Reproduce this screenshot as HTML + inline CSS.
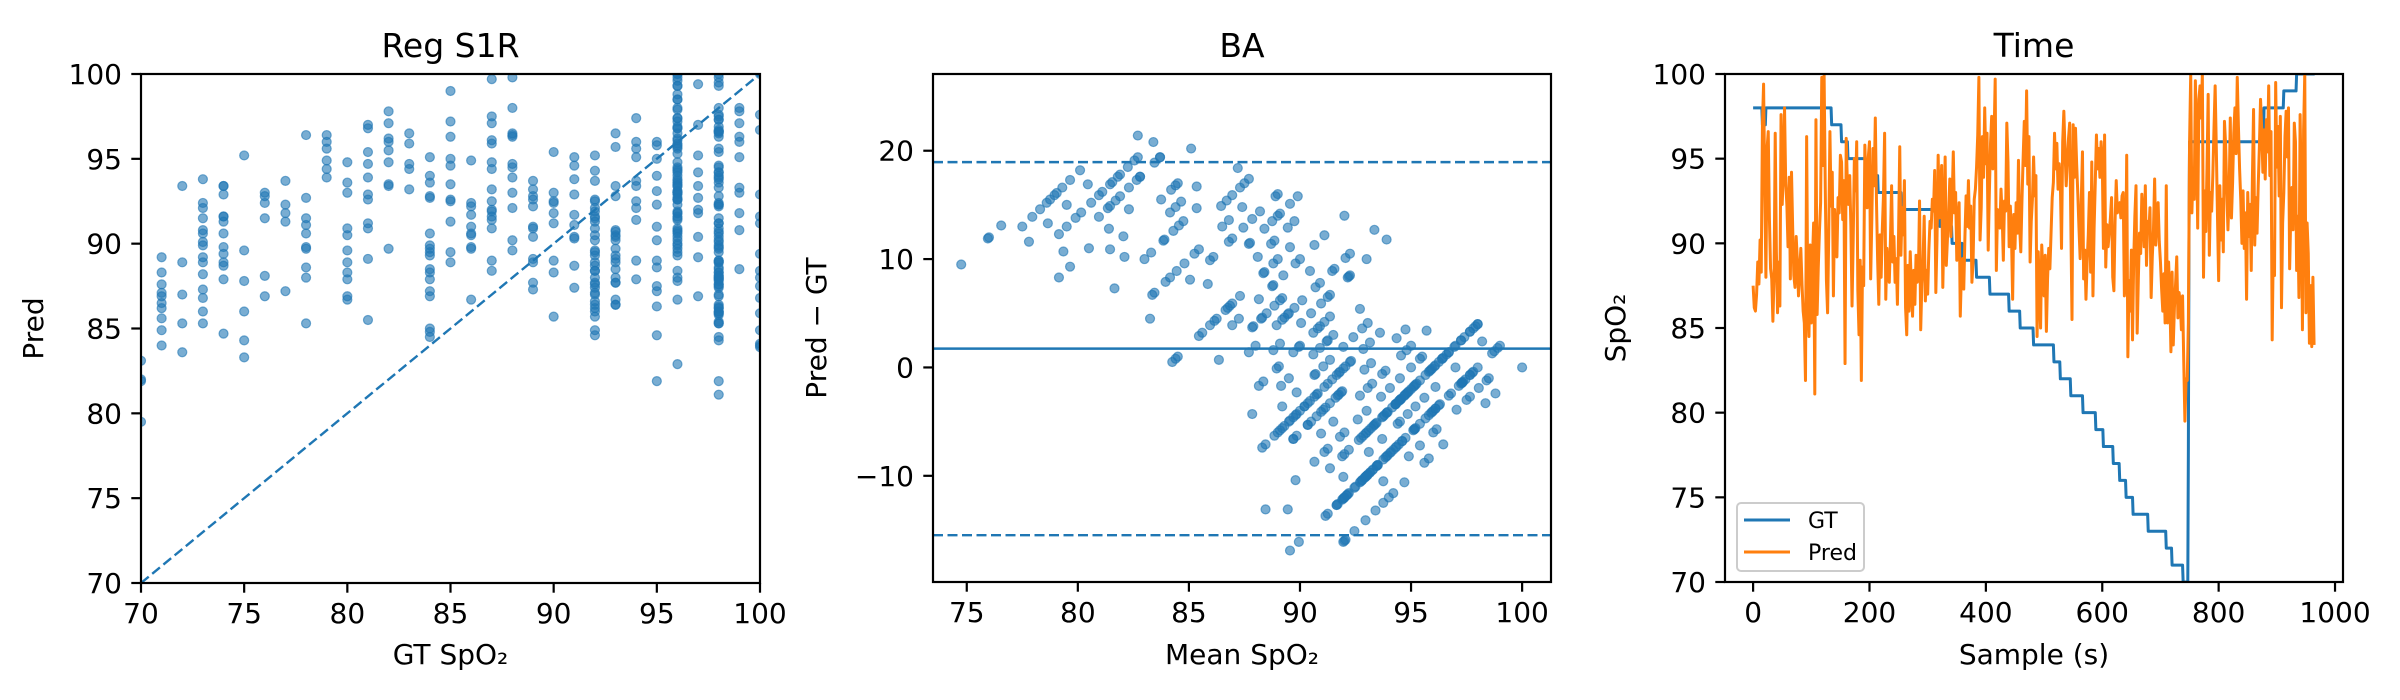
<!DOCTYPE html>
<html><head><meta charset="utf-8">
<style>
html,body{margin:0;padding:0;background:#fff;}
svg{display:block;font-family:"DejaVu Sans","Liberation Sans",sans-serif;}
</style></head>
<body>
<svg id="fig" width="2400" height="700" viewBox="0 0 2400 700" xmlns="http://www.w3.org/2000/svg">
<defs>
<clipPath id="c1"><rect x="141" y="74" width="619" height="509"/></clipPath>
<clipPath id="c2"><rect x="933" y="74" width="618" height="508"/></clipPath>
<clipPath id="c3"><rect x="1725" y="74" width="618" height="508"/></clipPath>
</defs>
</svg>
<script>
// ---- data ----
const gtLevels = [98,97,98,97,96,95,94,93,92,91,90,89,88,87,86,85,84,83,82,81,80,79,78,77,76,75,74,73,72,71,70,78,90,96,98,99,100];
const gtRuns   = [16,6,113,17,11,31,21,40,66,21,18,24,23,33,19,23,35,11,18,21,22,13,17,11,11,12,26,31,10,19,9,1,1,128,34,22,32];
const predValues = [
87.5,90.9,86.2,88.4,86.0,89.6,87.0,90.6,88.9,91.8,87.6,93.6,90.2,91.5,88.3,92.9,97.0,89.1,99.4,95.8,
93.4,84.8,88.0,84.7,95.6,87.3,96.6,86.4,91.5,82.2,88.5,84.1,87.9,90.4,85.4,93.8,88.0,87.0,96.5,92.1,
89.5,95.0,85.9,91.9,88.9,93.8,86.3,91.7,97.6,89.2,92.3,86.0,94.2,88.3,98.0,90.6,93.6,88.6,92.3,94.2,
89.8,88.7,93.9,92.4,87.9,90.3,94.2,86.5,90.9,82.7,88.1,93.7,87.4,95.0,90.4,84.1,89.0,92.7,86.9,91.9,
88.3,84.4,89.7,95.7,87.6,91.8,86.0,93.9,85.3,90.3,81.9,88.7,96.3,92.0,86.4,90.5,84.5,92.5,89.9,93.7,
85.3,97.9,89.0,84.0,91.2,88.6,81.1,92.9,97.3,89.2,85.8,93.9,88.6,96.2,90.7,82.1,92.4,87.9,99.8,89.3,
94.6,86.0,100.0,88.5,93.3,91.2,87.8,96.6,85.9,89.2,90.6,84.0,96.6,81.0,92.2,88.8,94.2,89.3,86.9,90.6,
92.0,84.6,90.4,95.9,89.2,87.0,92.7,86.6,91.8,88.3,95.2,85.6,94.8,89.6,91.4,87.2,93.7,90.8,82.9,88.3,
96.2,90.0,93.5,87.5,92.3,89.0,94.0,88.4,91.0,97.5,86.3,92.6,90.2,84.5,95.0,88.3,93.1,89.8,96.0,91.5,
87.2,90.9,84.6,93.3,89.0,92.3,81.9,96.8,88.6,93.8,87.5,91.0,95.8,89.5,93.7,86.9,92.1,88.5,95.1,90.0,
96.0,91.6,87.9,93.9,91.4,89.1,95.6,86.9,93.4,90.3,97.4,88.1,92.5,94.3,89.0,91.9,86.4,93.9,90.5,92.6,
88.0,94.8,90.8,87.2,92.8,89.4,96.5,91.1,86.7,93.1,89.7,95.3,88.5,92.0,87.7,94.6,90.2,86.9,93.4,91.3,
88.9,95.9,90.4,92.8,87.7,94.3,89.1,91.7,86.4,93.0,90.7,88.5,95.7,91.9,89.3,87.0,92.1,85.1,90.5,88.0,
93.7,89.0,86.2,91.8,84.6,92.2,88.7,90.9,86.0,94.5,89.5,91.3,87.4,92.7,85.7,90.0,88.4,93.3,86.4,91.0,
89.3,95.0,87.7,91.3,88.0,86.7,92.5,89.8,84.9,90.3,87.6,93.0,88.9,85.4,91.6,89.0,86.6,92.2,88.4,90.7,
87.0,93.7,89.6,86.2,91.3,88.6,90.9,85.9,92.6,89.0,91.9,88.0,94.3,89.7,87.1,92.4,90.2,88.6,95.2,90.4,
91.5,87.2,92.9,89.7,94.6,90.8,87.4,93.5,91.1,89.2,95.1,90.0,88.7,92.6,90.3,86.8,91.7,89.5,93.8,88.1,
90.4,86.6,92.5,89.9,95.4,88.7,91.8,87.5,93.0,90.8,89.0,94.6,91.2,87.9,92.4,90.0,85.7,91.5,88.3,93.2,
89.1,91.7,87.3,94.0,90.4,88.6,92.8,90.5,91.0,89.4,93.7,88.0,90.9,88.8,92.2,89.6,87.7,91.4,88.9,94.3,
92.6,97.0,93.2,89.3,94.5,90.9,96.4,91.8,99.8,93.6,90.2,95.0,92.1,89.4,96.3,91.5,93.9,89.9,98.0,92.4,
94.7,90.1,96.5,92.9,89.6,95.4,93.0,91.2,95.9,93.6,97.5,91.8,94.4,89.5,96.1,92.6,99.7,93.8,88.4,95.2,
92.0,96.6,91.4,94.9,90.9,98.6,93.2,95.7,91.6,94.3,89.0,96.2,92.5,95.0,91.9,93.7,97.1,90.6,94.8,92.7,
89.8,94.6,92.2,97.0,90.5,93.8,86.7,95.3,91.7,94.1,89.7,96.0,92.4,95.4,90.6,93.2,94.9,88.0,91.0,94.9,
89.5,96.4,92.5,85.3,95.0,91.0,97.2,89.1,94.6,92.0,99.0,90.9,93.5,85.6,96.3,92.4,88.9,95.3,91.3,94.7,
92.6,90.0,95.1,88.4,92.8,86.6,94.0,90.3,84.5,93.1,89.5,95.2,87.2,91.6,85.0,92.9,89.9,96.6,88.3,91.9,
86.9,94.6,89.3,92.3,84.8,90.9,87.9,93.8,89.7,91.4,88.5,95.0,90.6,86.2,92.7,89.0,93.6,91.0,96.5,90.1,
94.4,92.3,95.9,91.4,93.2,90.4,94.7,87.7,93.5,99.5,89.7,94.1,96.0,88.6,97.8,91.6,95.5,90.5,93.4,99.2,
94.8,89.7,96.2,92.0,97.1,93.8,91.2,95.0,85.5,92.4,97.0,89.5,93.9,88.0,96.8,91.6,94.7,86.7,92.9,95.3,
90.9,93.2,89.1,97.0,92.6,88.5,95.4,91.7,87.9,93.2,89.6,95.3,86.7,92.1,88.9,94.7,90.5,87.3,93.0,91.2,
88.3,92.6,94.8,89.9,86.9,93.6,90.9,88.0,93.6,90.9,96.4,91.3,94.4,92.6,95.6,90.7,93.9,92.9,96.0,91.0,
94.9,93.2,89.7,92.4,96.4,90.3,88.6,93.5,91.1,95.5,89.8,92.3,90.6,94.9,91.5,89.3,92.7,91.9,88.0,91.5,
87.2,95.6,91.3,89.0,93.7,87.9,91.8,88.7,92.3,86.0,92.4,88.9,91.5,87.1,92.8,89.2,93.0,90.6,86.9,91.9,
88.1,87.3,95.2,89.5,83.3,93.9,87.8,90.2,86.0,92.8,89.6,96.2,84.3,92.7,88.9,81.7,91.6,86.5,93.4,89.0,
84.7,92.6,87.9,99.0,90.6,85.6,89.4,83.4,92.9,88.4,91.6,84.9,89.8,86.0,93.4,82.0,88.7,85.5,91.3,87.6,
90.6,84.5,92.1,88.4,86.8,94.0,89.2,82.5,90.8,87.1,93.8,85.9,89.9,88.5,91.5,86.5,92.4,87.7,90.1,84.6,
88.9,91.8,87.3,93.5,86.0,90.3,88.2,92.0,85.3,89.1,93.4,89.0,85.3,95.7,88.9,91.2,87.0,89.3,83.6,90.2,
88.3,92.5,84.0,89.5,86.2,91.1,87.6,85.0,89.2,91.6,85.6,88.7,87.1,90.3,86.5,89.0,84.9,92.2,86.9,88.1,
83.1,86.4,79.5,84.9,82.0,88.4,81.9,87.0,85.3,90.0,
95.9,93.0,100.0,98.2,91.8,96.7,94.3,100.0,92.6,97.9,99.6,93.4,96.1,100.0,90.9,95.2,98.5,92.2,99.3,94.6,
97.4,91.3,100.0,95.7,88.0,96.9,93.1,99.0,90.7,97.6,94.5,92.0,98.8,95.4,89.3,96.4,93.0,99.6,91.9,97.1,
94.0,88.7,96.8,92.3,99.3,90.5,95.6,97.8,91.6,94.9,87.8,96.0,93.4,98.2,90.2,95.1,92.6,99.0,89.5,94.5,
97.2,91.2,95.8,82.2,93.0,98.5,90.8,96.3,92.9,89.1,97.4,94.2,91.5,99.4,93.6,88.6,96.5,92.0,98.0,90.3,
95.3,93.7,99.8,91.0,96.9,87.3,94.4,97.6,92.6,100.0,90.0,95.9,93.1,98.4,89.7,96.2,91.8,94.8,86.7,97.3,
93.0,100.0,90.4,95.5,92.3,98.9,88.4,96.6,93.8,91.1,97.9,94.0,89.9,99.3,92.7,95.9,90.6,97.0,93.4,87.9,
95.7,91.7,98.5,93.0,96.8,89.3,94.2,91.0,96.7,82.8,93.8,88.0,97.3,90.5,95.4,86.4,99.3,91.6,94.0,88.9,
96.6,92.4,84.3,98.8,90.1,95.2,88.1,93.7,99.5,87.3,94.5,91.0,96.9,85.0,92.8,89.7,97.5,93.3,86.2,95.9,
91.2,98.2,93.0,94.8,96.3,89.3,97.8,92.8,95.1,90.0,98.0,94.2,88.5,96.9,91.8,95.5,93.3,99.2,90.8,94.9,
97.1,92.3,96.0,98.6,88.4,95.9,91.6,99.0,86.8,94.3,97.6,85.6,92.9,99.6,84.9,90.7,96.7,88.2,100.0,93.2,
85.9,97.5,91.2,83.8,89.4,96.0,84.1,91.1,87.5,95.0,83.9,90.7,88.0,96.0,84.0,96.0
];
const sampleStep = 2;
const p1Ticks = [70,75,80,85,90,95,100];
const p2XTicks = [75,80,85,90,95,100];
const p2YTicks = [-10,0,10,20];
const p3XTicks = [0,200,400,600,800,1000];
const p3YTicks = [70,75,80,85,90,95,100];

// ---- helpers ----
const NS = 'http://www.w3.org/2000/svg';
const svg = document.getElementById('fig');
function mk(tag, attrs, parent){
  const e = document.createElementNS(NS, tag);
  for (const k in attrs) e.setAttribute(k, attrs[k]);
  (parent || svg).appendChild(e);
  return e;
}
function lin(d0,d1,r0,r1){ return v => r0 + (v-d0)/(d1-d0)*(r1-r0); }
const BLUE='#1f77b4', ORANGE='#ff7f0e';

// expand GT (1 value per second)
const gt = [];
for (let i=0;i<gtLevels.length;i++) for (let j=0;j<gtRuns[i];j++) gt.push(gtLevels[i]);
const NT = Math.min(gt.length, predValues.length);
// samples taken every sampleStep seconds
const tArr = [], pred = [], gtv = [];
for (let t=0; t<NT; t+=sampleStep){ tArr.push(t); pred.push(predValues[t]); gtv.push(gt[t]); }
const N = pred.length;

function axes(name, L, T, R, B, xs, ys, xticks, yticks, xfmt, yfmt, title, xlabel, ylabel, ylabX){
  const g = mk('g', {});
  
  
  for (const t of xticks){
    const x = xs(t);
    const tk = mk('line', {x1:x, x2:x, y1:B, y2:B+9.7, stroke:'#000', 'stroke-width':2.2}, g);
    
    
    const tx = mk('text', {x:x, y:B+40, 'font-size':28, 'text-anchor':'middle', fill:'#000'}, g);
    
    
    tx.textContent = xfmt(t);
  }
  for (const t of yticks){
    const y = ys(t);
    const tk = mk('line', {x1:L-9.7, x2:L, y1:y, y2:y, stroke:'#000', 'stroke-width':2.2}, g);
    
    
    const tx = mk('text', {x:L-19, y:y+10, 'font-size':28, 'text-anchor':'end', fill:'#000'}, g);
    
    
    tx.textContent = yfmt(t);
  }
  const fr = mk('rect', {x:L, y:T, width:R-L, height:B-T, fill:'none', stroke:'#000', 'stroke-width':2.2}, g);
  
  
  const ti = mk('text', {x:(L+R)/2, y:57, 'font-size':33, 'text-anchor':'middle', fill:'#000'}, g);
  
  
  ti.textContent = title;
  const xl = mk('text', {x:(L+R)/2, y:664, 'font-size':28, 'text-anchor':'middle', fill:'#000'}, g);
  
  
  xl.textContent = xlabel;
  const cy = (T+B)/2;
  const yl = mk('text', {x:ylabX, y:cy, 'font-size':28, 'text-anchor':'middle', fill:'#000', transform:'rotate(-90 '+ylabX+' '+cy+')'}, g);
  
  
  yl.textContent = ylabel;
}
const fmtInt = v => String(v);
const fmtMinus = v => v < 0 ? '\u2212' + Math.abs(v) : String(v);

// ---- Panel 1: regression scatter ----
const x1 = lin(70,100,141,760), y1 = lin(70,100,583,74);
const g1 = mk('g', {'clip-path':'url(#c1)'});


for (let i=0;i<N;i++){
  const c = mk('circle', {cx:x1(gtv[i]), cy:y1(pred[i]), r:4.5, fill:BLUE, 'fill-opacity':0.6, stroke:BLUE, 'stroke-opacity':0.6, 'stroke-width':1.2}, g1);
  
  
}
const idl = mk('line', {x1:x1(70), y1:y1(70), x2:x1(100), y2:y1(100), stroke:BLUE, 'stroke-width':2.4, 'stroke-dasharray':'10,4.5', 'clip-path':'url(#c1)'});


axes('reg', 141,74,760,583, x1,y1, p1Ticks,p1Ticks, fmtInt,fmtInt, 'Reg S1R', 'GT SpO\u2082', 'Pred', 43);

// ---- Panel 2: Bland-Altman ----
const x2 = lin(73.48,101.3,933,1551), y2 = lin(-19.8,27.08,582,74);
const g2 = mk('g', {'clip-path':'url(#c2)'});


const diffs = [];
for (let i=0;i<N;i++){
  const m = (gtv[i]+pred[i])/2, d = pred[i]-gtv[i];
  diffs.push(d);
  const c = mk('circle', {cx:x2(m), cy:y2(d), r:4.5, fill:BLUE, 'fill-opacity':0.6, stroke:BLUE, 'stroke-opacity':0.6, 'stroke-width':1.2}, g2);
  
  
}
const mean = diffs.reduce((a,b)=>a+b,0)/diffs.length;
const sd = Math.sqrt(diffs.reduce((a,b)=>a+(b-mean)*(b-mean),0)/diffs.length);
const ml = mk('line', {x1:933, x2:1551, y1:y2(mean), y2:y2(mean), stroke:BLUE, 'stroke-width':2.4});


for (const v of [mean+1.96*sd, mean-1.96*sd]){
  const l = mk('line', {x1:933, x2:1551, y1:y2(v), y2:y2(v), stroke:BLUE, 'stroke-width':2.4, 'stroke-dasharray':'10,4.5'});
  
  
}
axes('ba', 933,74,1551,582, x2,y2, p2XTicks,p2YTicks, fmtInt,fmtMinus, 'BA', 'Mean SpO\u2082', 'Pred \u2212 GT', 826);

// ---- Panel 3: time series ----
const x3 = lin(-48.3,1013.7,1725,2343), y3 = lin(70,100,582,74);
const g3 = mk('g', {'clip-path':'url(#c3)'});


let dg='', dp='';
for (let t=0;t<NT;t++){
  dg += (t?'L':'M') + x3(t).toFixed(2) + ',' + y3(gt[t]).toFixed(2);
}
for (let i=0;i<N;i++){
  dp += (i?'L':'M') + x3(tArr[i]).toFixed(2) + ',' + y3(pred[i]).toFixed(2);
}
const pg = mk('path', {d:dg, fill:'none', stroke:BLUE, 'stroke-width':3, 'stroke-linejoin':'round'}, g3);


const pp = mk('path', {d:dp, fill:'none', stroke:ORANGE, 'stroke-width':3, 'stroke-linejoin':'round'}, g3);


axes('time', 1725,74,2343,582, x3,y3, p3XTicks,p3YTicks, fmtInt,fmtInt, 'Time', 'Sample (s)', 'SpO\u2082', 1625);

// legend
const lg = mk('g', {});


const lb = mk('rect', {x:1737, y:503, width:127, height:68, rx:4, fill:'#fff', 'fill-opacity':0.8, stroke:'#ccc', 'stroke-width':2}, lg);


const l1 = mk('line', {x1:1744, x2:1790, y1:520, y2:520, stroke:BLUE, 'stroke-width':3}, lg);


const t1 = mk('text', {x:1808, y:528, 'font-size':22, fill:'#000'}, lg);


t1.textContent = 'GT';
const l2 = mk('line', {x1:1744, x2:1790, y1:552, y2:552, stroke:ORANGE, 'stroke-width':3}, lg);


const t2 = mk('text', {x:1808, y:560, 'font-size':22, fill:'#000'}, lg);


t2.textContent = 'Pred';
</script>
</body></html>
